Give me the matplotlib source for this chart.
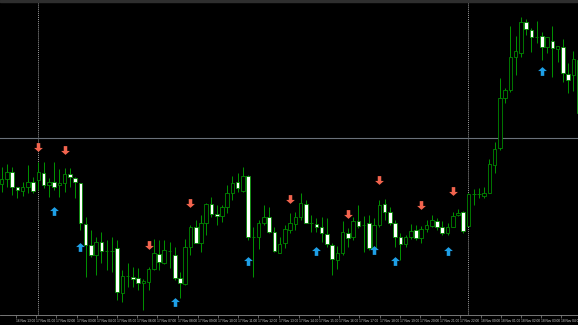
import numpy as np
import matplotlib.pyplot as plt
from matplotlib.path import Path

# OHLC values (price in chart points)
opens = [131, 136, 143, 128, 124, 128, 133, 135, 142, 130, 133, 130, 132, 141, 137, 132,
         91, 70, 60, 73, 64, 64, 67, 22, 39, 38, 37, 32, 33, 46, 61, 52, 64, 60, 37, 31,
         68, 88, 72, 92, 111, 101, 99, 108, 122, 133, 124, 139, 78, 78, 92, 98, 83, 62,
         72, 85, 91, 98, 111, 92, 91, 88, 81, 70, 55, 62, 82, 78, 94, 90, 92, 67, 90,
         111, 103, 92, 78, 71, 78, 85, 77, 86, 89, 94, 88, 82, 88, 100, 103, 89, 121,
         121, 119, 122, 150, 167, 217, 225, 258, 262, 293, 285, 278, 279, 268, 274, 266,
         268, 241, 240, 255]
highs = [148, 151, 148, 128, 133, 150, 138, 153, 153, 137, 153, 146, 147, 147, 138, 132,
         98, 85, 78, 83, 75, 78, 75, 45, 52, 48, 47, 36, 48, 76, 75, 75, 73, 68, 43, 76,
         90, 95, 100, 112, 118, 110, 110, 130, 139, 142, 148, 140, 88, 95, 110, 108, 88,
         78, 90, 102, 103, 122, 115, 100, 97, 98, 97, 72, 69, 94, 87, 98, 110, 99, 100,
         97, 115, 116, 108, 95, 82, 80, 91, 90, 89, 95, 100, 97, 94, 92, 103, 106, 104,
         122, 126, 127, 128, 156, 173, 237, 227, 289, 279, 298, 296, 287, 294, 283, 278,
         289, 269, 276, 252, 264, 257]
lows = [123, 128, 120, 117, 119, 122, 122, 125, 127, 118, 125, 118, 123, 128, 117, 85,
        38, 58, 40, 52, 45, 43, 15, 13, 28, 28, 25, 5, 25, 45, 45, 51, 47, 35, 17, 30,
        60, 72, 63, 80, 98, 90, 93, 102, 115, 123, 123, 75, 38, 66, 90, 82, 63, 62, 67,
        82, 85, 95, 92, 83, 83, 73, 68, 40, 46, 60, 68, 75, 87, 63, 65, 65, 88, 95, 90,
        68, 55, 68, 76, 75, 72, 83, 88, 85, 80, 80, 88, 99, 82, 89, 110, 117, 117, 122,
        142, 165, 212, 223, 240, 258, 280, 263, 272, 255, 262, 238, 253, 233, 222, 224,
        200]
closes = [136, 143, 128, 125, 128, 133, 124, 143, 130, 133, 128, 132, 141, 138, 133, 92,
          70, 60, 73, 64, 64, 64, 23, 39, 39, 36, 32, 34, 46, 62, 53, 65, 64, 37, 32, 68,
          88, 72, 92, 111, 101, 99, 108, 122, 132, 127, 139, 78, 78, 92, 98, 83, 64, 71,
          86, 92, 98, 112, 92, 92, 88, 82, 71, 56, 62, 83, 77, 94, 89, 90, 67, 90, 110,
          103, 92, 78, 71, 78, 84, 77, 86, 90, 95, 88, 82, 88, 99, 102, 84, 121, 121,
          121, 122, 151, 166, 217, 225, 258, 264, 293, 286, 278, 278, 268, 278, 267, 269,
          242, 235, 256, 202]

# signal arrows: bar index and level
sell_idx = [7, 12, 28, 36, 55, 66, 72, 80, 86]
sell_val = [168, 165, 70, 112, 116, 101, 135, 110, 124]
buy_idx = [10, 15, 33, 47, 60, 71, 75, 85, 103]
buy_val = [104, 68, 13, 54, 64, 65, 54, 64, 244]

separators = [7, 89]
hline_level = 177

time_labels = ["16 Nov 11:00", "16 Nov 13:00"] + \
    ["17 Nov %02d:00" % h for h in range(1, 23)] + \
    ["18 Nov 00:00", "18 Nov 01:00", "18 Nov 02:00", "18 Nov 03:00", "18 Nov 04:00"]

fig = plt.figure(figsize=(5.78, 3.25), dpi=100, facecolor="black")
ax = fig.add_axes([0, 10 / 325, 1, 315 / 325])
ax.set_facecolor("black")

x = np.arange(len(opens))
o = np.array(opens)
c = np.array(closes)

ax.vlines(x, lows, highs, color="#009400", lw=0.7, zorder=2)
face = ["black" if cc > oo else "white" for oo, cc in zip(o, c)]
ax.bar(x, c - o, bottom=o, width=0.68, color=face, edgecolor="#008a00", linewidth=0.6, zorder=3)

for s in separators:
    ax.axvline(s, color="#9a9a9a", lw=0.7, ls=(0, (1, 1)), zorder=1)
ax.axhline(hline_level, color="#6a717a", lw=0.8, zorder=1)

# arrow marker (points up)
arrow = Path([(0, 0.5), (0.5, 0.05), (0.2, 0.05), (0.2, -0.5), (-0.2, -0.5),
              (-0.2, 0.05), (-0.5, 0.05), (0, 0.5)])
arrow_dn = Path(arrow.vertices * [1, -1])
ax.scatter(buy_idx, buy_val, marker=arrow, s=40, color="#1e9fe6", lw=0, zorder=4)
ax.scatter(sell_idx, sell_val, marker=arrow_dn, s=40, color="#f2644e", lw=0, zorder=4)

tick_pos = np.arange(len(time_labels)) * 3.85 - 1.1
ax.set_xticks(tick_pos, time_labels)
for lab in ax.get_xticklabels():
    lab.set_horizontalalignment("left")
    lab.set_family(["Liberation Sans", "DejaVu Sans"])
ax.tick_params(axis="x", colors="#8a8a8a", labelcolor="#d0d0d0", labelsize=2.3,
               length=2, width=0.5, pad=1.2)
ax.set_yticks([])
ax.set_xlim(-0.32, 109.88)
ax.set_ylim(0, 315)
for side in ["top", "left", "right"]:
    ax.spines[side].set_visible(False)
ax.spines["bottom"].set_color("#8a8a8a")
ax.spines["bottom"].set_linewidth(0.6)

# top grey strip
fig.patches.append(plt.Rectangle((0, 1 - 2 / 325), 1, 2 / 325, transform=fig.transFigure,
                                 color="#2e2e2e", zorder=0))

fig.savefig("out.png", dpi=100, facecolor="black")
